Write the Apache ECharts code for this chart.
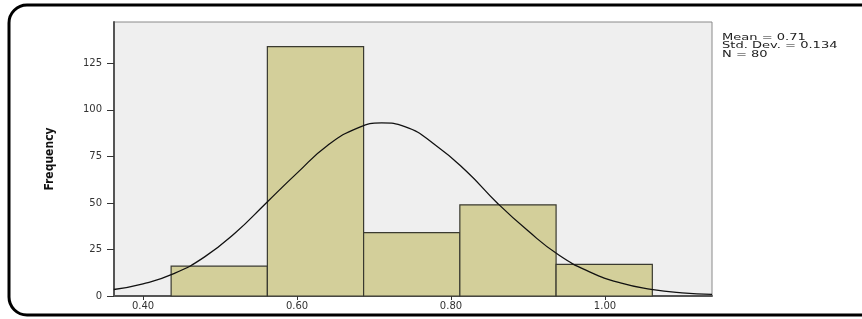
<!DOCTYPE html>
<html>
<head>
<meta charset="utf-8">
<script src="https://cdn.jsdelivr.net/npm/echarts@6/dist/echarts.min.js"></script>
<style>
  html, body { margin: 0; padding: 0; background: #fff; }
  #chart { width: 862px; height: 319px; }
</style>
</head>
<body>
<div id="chart"></div>
<script>
// Histogram bins (edges) and counts
var binStart = [0.4365, 0.5615, 0.6865, 0.8115, 0.9365];
var binEnd   = [0.5615, 0.6865, 0.8115, 0.9365, 1.0615];
var counts   = [16, 134, 34, 49, 17];

// Normal curve, points
var curveX = [0.362, 0.40, 0.44, 0.48, 0.52, 0.56, 0.60, 0.64, 0.68, 0.71, 0.74, 0.78, 0.82, 0.86, 0.90, 0.94, 0.98, 1.02, 1.06, 1.10, 1.139];
var curveY = [3.5, 6.5, 12, 21, 34, 50, 66, 81, 90.5, 93, 91, 81, 67, 50, 35, 22, 13, 7, 3.6, 1.7, 0.9];

// Tick labels
var xTicks = [0.40, 0.60, 0.80, 1.00];
var yTicks = [0, 25, 50, 75, 100, 125];

var statsLines = ['Mean = 0.71', 'Std. Dev. = 0.134', 'N = 80'];

var histData = binStart.map(function (s, i) { return [s, binEnd[i], counts[i]]; });
var curveData = curveX.map(function (x, i) { return [x, curveY[i]]; });

var tickFont = { fontFamily: 'DejaVu Sans', fontSize: 10, color: '#333' };

var myChart = echarts.init(document.getElementById('chart'));
var option = {
  animation: false,
  grid: {
    left: 114, top: 22, right: 150, bottom: 23,
    show: true,
    backgroundColor: '#efefef',
    borderColor: '#8a8a8a',
    borderWidth: 1
  },
  xAxis: {
    type: 'value',
    min: 0.3623,
    max: 1.139,
    splitLine: { show: false },
    axisLine: { show: true, onZero: false, lineStyle: { color: '#555', width: 2 } },
    axisTick: { show: true, length: 4, customValues: xTicks, lineStyle: { color: '#333' } },
    axisLabel: Object.assign({
      customValues: xTicks,
      margin: 5,
      formatter: function (v) { return v.toFixed(2); }
    }, tickFont)
  },
  yAxis: {
    type: 'value',
    min: 0,
    max: 147.2,
    name: 'Frequency',
    nameLocation: 'middle',
    nameRotate: 90,
    nameGap: 58,
    nameTextStyle: { fontFamily: 'Liberation Sans Narrow, DejaVu Sans Condensed', fontWeight: 'bold', fontSize: 12, color: '#111' },
    splitLine: { show: false },
    axisLine: { show: true, lineStyle: { color: '#555', width: 2 } },
    axisTick: { show: true, length: 7, customValues: yTicks, lineStyle: { color: '#333' } },
    axisLabel: Object.assign({ customValues: yTicks, margin: 12 }, tickFont)
  },
  series: [
    {
      type: 'custom',
      data: histData,
      encode: { x: [0, 1], y: 2 },
      z: 2,
      renderItem: function (params, api) {
        var p0 = api.coord([api.value(0), api.value(2)]);
        var p1 = api.coord([api.value(1), 0]);
        return {
          type: 'rect',
          shape: { x: p0[0], y: p0[1], width: p1[0] - p0[0], height: p1[1] - p0[1] },
          style: { fill: '#d3cf9a', stroke: '#3a3a30', lineWidth: 1.2 }
        };
      }
    },
    {
      type: 'line',
      data: curveData,
      smooth: true,
      showSymbol: false,
      z: 3,
      lineStyle: { color: '#111', width: 1.3 }
    }
  ],
  graphic: [
    {
      type: 'rect',
      shape: { x: 9, y: 5, width: 880, height: 310, r: 18 },
      style: { fill: 'none', stroke: '#000', lineWidth: 3 },
      silent: true
    },
    {
      type: 'text',
      x: 722,
      y: 33,
      scaleX: 1.45,
      style: {
        text: statsLines.join('\n'),
        fontFamily: 'DejaVu Sans',
        fontSize: 9,
        lineHeight: 8.5,
        fill: '#222'
      }
    }
  ]
};
myChart.setOption(option);
</script>
</body>
</html>
